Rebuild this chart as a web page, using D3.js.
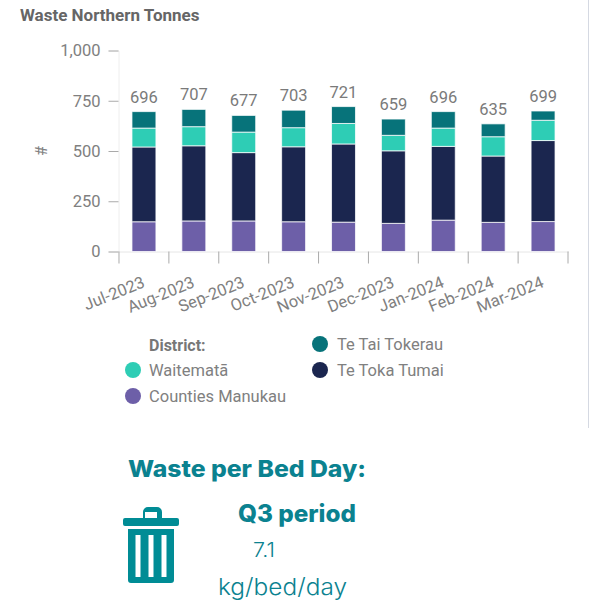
<!DOCTYPE html>
<html>
<head>
<meta charset="utf-8">
<script src="https://cdn.jsdelivr.net/npm/d3@7"></script>
<style>
  body { margin: 0; background: #fff; }
  text { font-family: Roboto, sans-serif; }
</style>
</head>
<body>
<div id="d3"></div>
<script>
const months = ['Jul-2023', 'Aug-2023', 'Sep-2023', 'Oct-2023', 'Nov-2023', 'Dec-2023', 'Jan-2024', 'Feb-2024', 'Mar-2024'];
const countiesManukau = [148, 152, 152, 148, 146, 140, 156, 145, 149];
const teTokaTumai = [372, 374, 340, 373, 389, 361, 367, 330, 403];
const waitemata = [94, 95, 102, 95, 102, 77, 91, 96, 101];
const teTaiTokerau = [82, 86, 83, 87, 84, 81, 82, 64, 46];
const totals = [696, 707, 677, 703, 721, 659, 696, 635, 699];
const yTicks = [0, 250, 500, 750, 1000];
const seriesNames = ['Counties Manukau', 'Te Toka Tumai', 'Waitematā', 'Te Tai Tokerau'];
const seriesColors = ['#6d5fa8', '#1b264f', '#2ecdb5', '#07737a'];

const width = 590;
const height = 606;
const teal = '#0b8290';

const rows = months.map((m, i) => ({
  month: m,
  'Counties Manukau': countiesManukau[i],
  'Te Toka Tumai': teTokaTumai[i],
  'Waitematā': waitemata[i],
  'Te Tai Tokerau': teTaiTokerau[i],
  total: totals[i]
}));

const svg = d3.select('#d3')
  .append('svg')
  .attr('width', width)
  .attr('height', height)
  .style('display', 'block');

// panel edge on the right
svg.append('line')
  .attr('x1', 588.5).attr('x2', 588.5)
  .attr('y1', 0).attr('y2', 428)
  .attr('stroke', '#d5d9e2');

svg.append('text')
  .attr('x', 20).attr('y', 21)
  .attr('font-size', 17)
  .attr('font-weight', 700)
  .attr('fill', '#666')
  .text('Waste Northern Tonnes');

const x = d3.scaleBand()
  .domain(months)
  .range([118.5, 568.5])
  .paddingInner(0.52)
  .paddingOuter(0.27);

const y = d3.scaleLinear()
  .domain([0, 1000])
  .range([251.5, 50.5]);

const color = d3.scaleOrdinal().domain(seriesNames).range(seriesColors);

const yAxis = svg.append('g')
  .attr('transform', 'translate(118.5,0)')
  .call(d3.axisLeft(y).tickValues(yTicks).tickSize(10).tickPadding(8).tickFormat(d3.format(',')));
yAxis.select('.domain').attr('stroke', '#eeeeee');
yAxis.selectAll('.tick line').attr('stroke', '#aaa');
yAxis.selectAll('text').attr('font-size', 16.5).attr('fill', '#808080').attr('font-family', 'Roboto');

svg.append('text')
  .attr('transform', 'translate(47,151) rotate(-90)')
  .attr('text-anchor', 'middle')
  .attr('font-size', 16)
  .attr('fill', '#808080')
  .text('#');

const xAxis = svg.append('g')
  .attr('transform', `translate(0,${y(0)})`)
  .call(d3.axisBottom(x).tickSize(0).tickPadding(18));
xAxis.select('.domain').attr('stroke', '#e6e6e6');
xAxis.selectAll('text')
  .attr('font-size', 16.5)
  .attr('fill', '#808080')
  .attr('font-family', 'Roboto')
  .attr('text-anchor', 'end')
  .attr('dy', '0.35em')
  .attr('transform', 'translate(-7,13) rotate(-22)');

// tick marks sit on the band edges
const edges = months.map(m => x(m) - x.step() * x.paddingInner() / 2)
  .concat(x(months[8]) + x.bandwidth() + x.step() * x.paddingInner() / 2);
xAxis.selectAll('.edge')
  .data(edges)
  .join('line')
    .attr('class', 'edge')
    .attr('x1', d => d).attr('x2', d => d)
    .attr('y1', 0).attr('y2', 12)
    .attr('stroke', '#aaa');

const stacked = d3.stack().keys(seriesNames)(rows);

svg.append('g')
  .selectAll('g')
  .data(stacked)
  .join('g')
    .attr('fill', d => color(d.key))
  .selectAll('rect')
  .data(d => d)
  .join('rect')
    .attr('x', d => x(d.data.month))
    .attr('y', d => y(d[1]))
    .attr('width', x.bandwidth())
    .attr('height', d => y(d[0]) - y(d[1]))
    .attr('stroke', '#fff')
    .attr('stroke-opacity', 0.75)
    .attr('stroke-width', 1);

svg.append('g')
  .selectAll('text')
  .data(rows)
  .join('text')
    .attr('x', d => x(d.month) + x.bandwidth() / 2)
    .attr('y', d => y(d.total) - 9)
    .attr('text-anchor', 'middle')
    .attr('font-size', 16.5)
    .attr('fill', '#7a7a7a')
    .text(d => d.total);

// legend
svg.append('text')
  .attr('x', 149).attr('y', 351)
  .attr('font-size', 16)
  .attr('font-weight', 700)
  .attr('fill', '#777')
  .text('District:');

const legendPos = { 'Te Tai Tokerau': [320, 344], 'Te Toka Tumai': [320, 370], 'Waitematā': [133, 370], 'Counties Manukau': [133, 396] };
const legend = svg.append('g')
  .selectAll('g')
  .data(Object.keys(legendPos))
  .join('g')
    .attr('transform', d => `translate(${legendPos[d][0]},${legendPos[d][1]})`);
legend.append('circle').attr('r', 8).attr('fill', d => color(d));
legend.append('text')
  .attr('x', d => d[1] === 'e' ? 17 : 16)
  .attr('dy', '0.35em')
  .attr('font-size', 16.5)
  .attr('fill', '#808080')
  .text(d => d);

// waste per bed day block
const block = svg.append('g').attr('fill', teal);
block.append('text').attr('x', 128).attr('y', 477).attr('font-size', 23).attr('font-weight', 800)
  .attr('textLength', 238).attr('lengthAdjust', 'spacingAndGlyphs').style('font-family', 'Inter').text('Waste per Bed Day:');
block.append('text').attr('x', 238).attr('y', 522).attr('font-size', 24).attr('font-weight', 800)
  .attr('textLength', 118).attr('lengthAdjust', 'spacingAndGlyphs').style('font-family', 'Inter').text('Q3 period');
block.append('text').attr('x', 253).attr('y', 557).attr('font-size', 20).attr('font-weight', 300)
  .attr('textLength', 22).attr('lengthAdjust', 'spacingAndGlyphs').style('font-family', 'Inter').text('7.1');
block.append('text').attr('x', 218).attr('y', 595).attr('font-size', 23).attr('font-weight', 300)
  .attr('textLength', 129).attr('lengthAdjust', 'spacingAndGlyphs').style('font-family', 'Inter').text('kg/bed/day');

// bin icon
svg.append('path')
  .attr('fill', '#008c95')
  .attr('fill-rule', 'evenodd')
  .attr('d', 'M146 507h11a5 5 0 0 1 5 5v6h15a2 2 0 0 1 2 2v4a2 2 0 0 1-2 2h-52a2 2 0 0 1-2-2v-4a2 2 0 0 1 2-2h18v-6a5 5 0 0 1 5-5z'
    + 'M145 512v6h12v-6z'
    + 'M128 529h46v51a3 3 0 0 1-3 3h-40a3 3 0 0 1-3-3z'
    + 'M135.500 535v42h5v-42zM148.500 535v42h5v-42zM161.500 535v42h5v-42z');
</script>
</body>
</html>
